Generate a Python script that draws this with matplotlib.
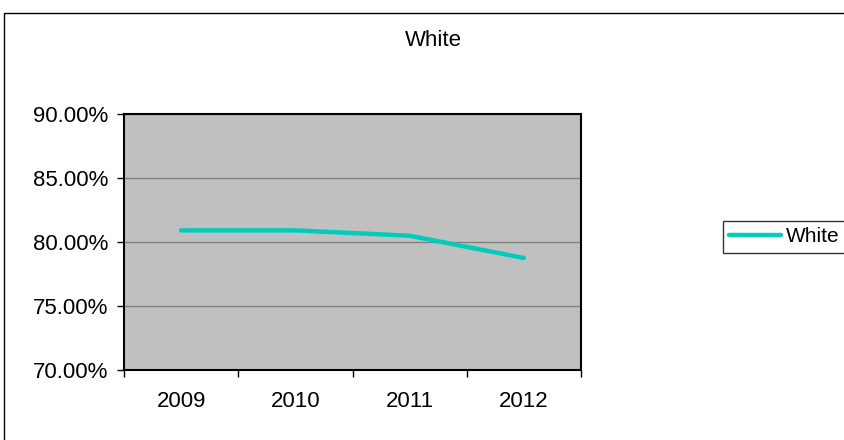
import matplotlib
matplotlib.use("Agg")
import matplotlib.pyplot as plt
from matplotlib.patches import Rectangle
from matplotlib.ticker import FixedLocator, FuncFormatter

years = ["2009", "2010", "2011", "2012"]
white = [0.8091, 0.8091, 0.8049, 0.7875]
y_ticks = [0.70, 0.75, 0.80, 0.85, 0.90]

plt.rcParams["font.family"] = ["Liberation Sans", "DejaVu Sans"]

W, H = 845, 440
FS = 16
fig = plt.figure(figsize=(W / 100, H / 100), dpi=100)
fig.patch.set_facecolor("white")

# chart-area border
fig.patches.append(Rectangle((4.5 / W, -0.05), 1.1, 1 - 12.5 / H + 0.05,
                             transform=fig.transFigure, fill=False,
                             edgecolor="black", linewidth=1.0))

ax = fig.add_axes([124 / W, 1 - 370 / H, (581 - 124) / W, (370 - 114) / H])
ax.set_facecolor("#C0C0C0")

x = list(range(len(years)))
line, = ax.plot(x, white, color="#00CCBB", linewidth=3.2,
                solid_capstyle="round", label="White", zorder=3)

ax.set_xlim(-0.5, len(years) - 0.5)
ax.set_ylim(0.70, 0.90)
ax.set_yticks(y_ticks)
ax.yaxis.set_major_formatter(FuncFormatter(lambda v, p: f"{v * 100:.2f}%"))
ax.yaxis.grid(True, color="#808080", linewidth=1.0)
ax.set_axisbelow(True)

ax.xaxis.set_major_locator(FixedLocator([i - 0.5 for i in range(len(years) + 1)]))
ax.set_xticklabels([])
ax.set_xticks(x, minor=True)
ax.set_xticklabels(years, minor=True)
ax.tick_params(axis="x", which="minor", length=0, pad=15, labelsize=FS)
ax.tick_params(axis="x", which="major", length=5, width=1, direction="out")
ax.tick_params(axis="y", length=5, width=1, direction="out", labelsize=FS, pad=6)

for s in ax.spines.values():
    s.set_linewidth(1.5)
    s.set_color("black")

fig.text(433 / W, 1 - 40 / H, "White", ha="center", va="center", fontsize=FS)

leg = fig.legend(handles=[line], labels=["White"], loc="upper left",
                 bbox_to_anchor=(723 / W, 1 - 221 / H), frameon=True,
                 fancybox=False, edgecolor="black", fontsize=15,
                 handlelength=2.5, handletextpad=0.2, borderpad=0.3,
                 borderaxespad=0)
leg.get_frame().set_linewidth(1.0)

fig.savefig("out.png", dpi=100)
